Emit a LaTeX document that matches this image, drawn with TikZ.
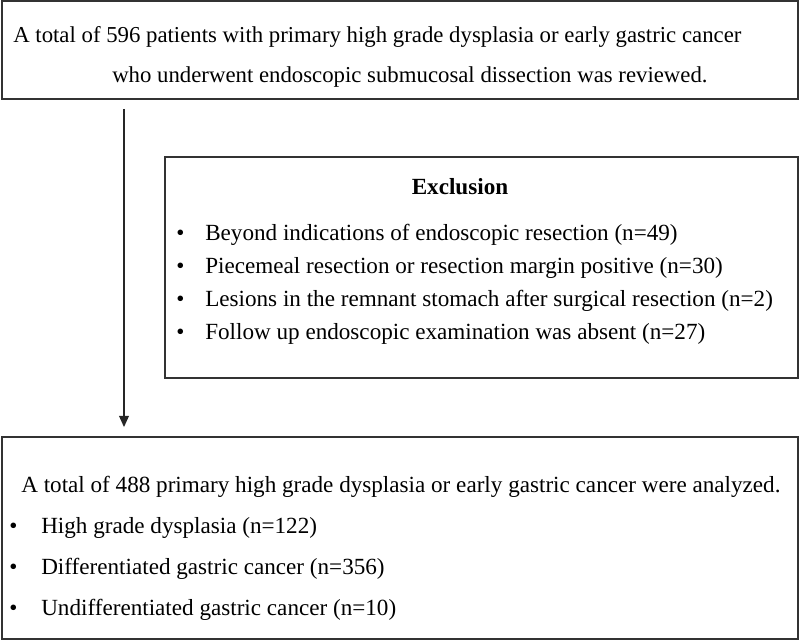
\documentclass[tikz,border=0pt]{standalone}
\usepackage{fontspec}
\setmainfont{Liberation Serif}
\usepackage{tikz}
\usetikzlibrary{arrows.meta}

\begin{document}
\begin{tikzpicture}[x=0.025cm,y=-0.025cm,
    box/.style={draw=black!80,line width=1.2pt,inner sep=0pt},
    bigtxt/.style={anchor=base west,inner sep=0pt,font=\fontsize{16.45}{20}\selectfont},
    toptxt/.style={bigtxt,font=\fontsize{16.2}{20}\selectfont}]
  \useasboundingbox (0,0) rectangle (800,643);

  %% ── screened patients ──
  \node[box,minimum width=19.9cm,minimum height=2.45cm] (screened) at (400,50) {};
  \node[toptxt] (screenedA) at (13,43)
    {A total of 596 patients with primary high grade dysplasia or early gastric cancer};
  \node[toptxt] (screenedB) at (112,83)
    {who underwent endoscopic submucosal dissection was reviewed.};

  %% ── exclusion ──
  \node[box,minimum width=15.825cm,minimum height=5.525cm] (excl) at (481.5,267.5) {};
  \node[bigtxt,anchor=base,font=\fontsize{16.45}{20}\selectfont\bfseries] (exclHead) at (460,194) {Exclusion};
  \node[bigtxt] (exclA) at (176,240)
    {\makebox[0.725cm][l]{\textbullet}Beyond indications of endoscopic resection (n=49)};
  \node[bigtxt] (exclB) at (176,273)
    {\makebox[0.725cm][l]{\textbullet}Piecemeal resection or resection margin positive (n=30)};
  \node[bigtxt] (exclC) at (176,306)
    {\makebox[0.725cm][l]{\textbullet}Lesions in the remnant stomach after surgical resection (n=2)};
  \node[bigtxt] (exclD) at (176,339)
    {\makebox[0.725cm][l]{\textbullet}Follow up endoscopic examination was absent (n=27)};

  %% ── analysed lesions ──
  \node[box,minimum width=19.9cm,minimum height=5.05cm] (analysed) at (400,538) {};
  \node[bigtxt] (analysedHead) at (21,492)
    {A total of 488 primary high grade dysplasia or early gastric cancer were analyzed.};
  \node[bigtxt] (hgd) at (9,533)
    {\makebox[0.8cm][l]{\textbullet}High grade dysplasia (n=122)};
  \node[bigtxt] (diff) at (9,574)
    {\makebox[0.8cm][l]{\textbullet}Differentiated gastric cancer (n=356)};
  \node[bigtxt] (undiff) at (9,615)
    {\makebox[0.8cm][l]{\textbullet}Undifferentiated gastric cancer (n=10)};

  %% ── flow ──
  \coordinate (stem) at (124,0);
  \draw[black!85,line width=1.2pt,shorten <=0.225cm,shorten >=0.225cm,
        -{Triangle[length=0.28cm,width=0.24cm]}]
    (stem |- screened.south) -- (stem |- analysed.north);
\end{tikzpicture}
\end{document}
